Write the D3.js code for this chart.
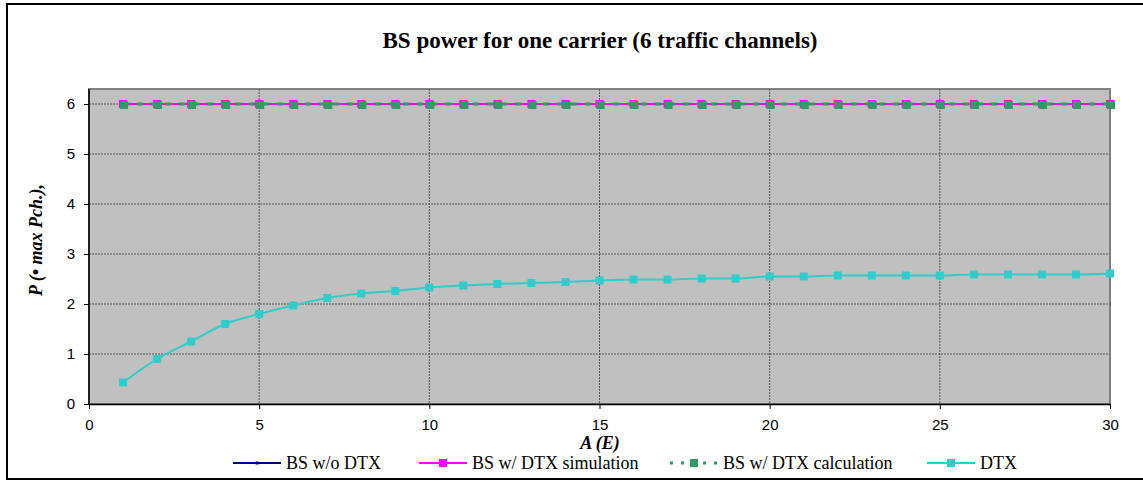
<!DOCTYPE html>
<html>
<head>
<meta charset="utf-8">
<script src="https://cdn.jsdelivr.net/npm/d3@7"></script>
<style>
  body { margin: 0; background: #fff; }
  svg { display: block; }
  .serif { font-family: "Liberation Serif", "DejaVu Serif", "Times New Roman", serif; }
  .sans { font-family: "Liberation Sans", Arial, sans-serif; }
</style>
</head>
<body>
<div id="chart"></div>
<script>
// data
var traffic = d3.range(1, 31);
var bsNoDtx = traffic.map(function () { return 6; });
var bsDtxSim = traffic.map(function () { return 6; });
var bsDtxCalc = traffic.map(function () { return 6; });
var dtx = [0.43, 0.90, 1.25, 1.60, 1.80, 1.97, 2.12, 2.21, 2.26, 2.33,
           2.37, 2.40, 2.42, 2.44, 2.47, 2.49, 2.49, 2.51, 2.51, 2.55,
           2.55, 2.57, 2.57, 2.57, 2.57, 2.59, 2.59, 2.59, 2.59, 2.61];
var xTicks = [0, 5, 10, 15, 20, 25, 30];
var yTicks = [0, 1, 2, 3, 4, 5, 6];

var width = 1143, height = 481;
var plot = { left: 89, right: 1110, top: 89, bottom: 404 };

var svg = d3.select("#chart").append("svg")
    .attr("width", width)
    .attr("height", height);

// outer chart frame
svg.append("rect")
    .attr("x", 7).attr("y", 4)
    .attr("width", 1150).attr("height", 475)
    .attr("fill", "#fff")
    .attr("stroke", "#000")
    .attr("stroke-width", 2);

var xScale = d3.scaleLinear().domain([0, 30]).range([plot.left, plot.right]);
var yScale = d3.scaleLinear().domain([0, 6.3]).range([plot.bottom, plot.top]);

svg.append("rect")
    .attr("x", plot.left).attr("y", plot.top)
    .attr("width", plot.right - plot.left)
    .attr("height", plot.bottom - plot.top)
    .attr("fill", "#c0c0c0")
    .attr("stroke", "#808080")
    .attr("stroke-width", 2);

// gridlines
svg.append("g").selectAll("line").data(yTicks.slice(1))
    .enter().append("line")
    .attr("x1", plot.left).attr("x2", plot.right)
    .attr("y1", function (d) { return yScale(d); })
    .attr("y2", function (d) { return yScale(d); })
    .attr("stroke", "#555")
    .attr("stroke-width", 1)
    .attr("stroke-dasharray", "2,1");

svg.append("g").selectAll("line").data(xTicks.slice(1, -1))
    .enter().append("line")
    .attr("y1", plot.top).attr("y2", plot.bottom)
    .attr("x1", function (d) { return xScale(d); })
    .attr("x2", function (d) { return xScale(d); })
    .attr("stroke", "#555")
    .attr("stroke-width", 1)
    .attr("stroke-dasharray", "2,1");

// axes
var xAxis = d3.axisBottom(xScale).tickValues(xTicks).tickFormat(d3.format("d"))
    .tickSize(5).tickSizeOuter(0);
var yAxis = d3.axisLeft(yScale).tickValues(yTicks).tickFormat(d3.format("d"))
    .tickSize(5).tickSizeOuter(0);

var gx = svg.append("g")
    .attr("transform", "translate(0," + plot.bottom + ")")
    .call(xAxis);
var gy = svg.append("g")
    .attr("transform", "translate(" + plot.left + ",0)")
    .call(yAxis);

[gx, gy].forEach(function (g) {
  g.attr("font-family", null);
  g.select(".domain").attr("stroke", "#000").attr("stroke-width", 1.5);
  g.selectAll(".tick line").attr("stroke", "#000");
  g.selectAll("text")
    .attr("class", "sans")
    .attr("font-size", 15)
    .attr("fill", "#000");
});
gx.selectAll("text").attr("dy", "1.2em");
gy.selectAll("text").attr("dx", "-0.4em");
gy.select(".domain").attr("d", "M0," + plot.bottom + "V" + yScale(6.3));

// series
var series = [
  { name: "BS w/o DTX", values: bsNoDtx, color: "#000080", dash: null, marker: 3 },
  { name: "BS w/ DTX simulation", values: bsDtxSim, color: "#ff00ff", dash: null, marker: 8 },
  { name: "BS w/ DTX calculation", values: bsDtxCalc, color: "#339966", dash: "6,8", marker: 8 },
  { name: "DTX", values: dtx, color: "#33cccc", dash: null, marker: 8 }
];

var line = d3.line()
    .x(function (d, i) { return xScale(traffic[i]); })
    .y(function (d) { return yScale(d); })
    .curve(d3.curveMonotoneX);

series.forEach(function (s) {
  var shift = s.name === "BS w/ DTX calculation" ? 1 : 0;
  svg.append("path")
      .datum(s.values)
      .attr("d", line)
      .attr("fill", "none")
      .attr("stroke", s.color)
      .attr("stroke-width", s.dash ? 3 : 2)
      .attr("stroke-dasharray", s.dash);

  svg.append("g").selectAll("rect").data(s.values)
      .enter().append("rect")
      .attr("x", function (d, i) { return xScale(traffic[i]) - s.marker / 2 + shift; })
      .attr("y", function (d) { return yScale(d) - s.marker / 2 + shift; })
      .attr("width", s.marker)
      .attr("height", s.marker)
      .attr("fill", s.color);
});

// title & axis labels
svg.append("text")
    .attr("class", "serif")
    .attr("x", 600).attr("y", 48)
    .attr("text-anchor", "middle")
    .attr("font-weight", "bold")
    .attr("font-size", 23)
    .text("BS power for one carrier (6 traffic channels)");

svg.append("text")
    .attr("class", "serif")
    .attr("transform", "translate(42,240) rotate(-90)")
    .attr("text-anchor", "middle")
    .attr("font-weight", "bold")
    .attr("font-style", "italic")
    .attr("font-size", 18)
    .text("P (\u2022 max Pch.),");

svg.append("text")
    .attr("class", "serif")
    .attr("x", 600).attr("y", 449)
    .attr("text-anchor", "middle")
    .attr("font-weight", "bold")
    .attr("font-style", "italic")
    .attr("font-size", 18)
    .text("A (E)");

// legend
var legendX = [233, 419, 670, 927];
var legend = svg.append("g").selectAll("g").data(series)
    .enter().append("g")
    .attr("transform", function (d, i) { return "translate(" + legendX[i] + ",469)"; });

legend.append("line")
    .attr("x1", 0).attr("x2", 48)
    .attr("y1", -6).attr("y2", -6)
    .attr("stroke", function (d) { return d.color; })
    .attr("stroke-width", function (d) { return d.dash ? 3 : 2; })
    .attr("stroke-dasharray", function (d) { return d.dash ? "3,8" : null; });

legend.append("rect")
    .attr("x", function (d) { return 24 - d.marker / 2; })
    .attr("y", function (d) { return -6 - d.marker / 2; })
    .attr("width", function (d) { return d.marker; })
    .attr("height", function (d) { return d.marker; })
    .attr("fill", function (d) { return d.color; });

legend.append("text")
    .attr("class", "serif")
    .attr("x", 53).attr("y", 0)
    .attr("font-size", 18)
    .text(function (d) { return d.name; });
</script>
</body>
</html>
